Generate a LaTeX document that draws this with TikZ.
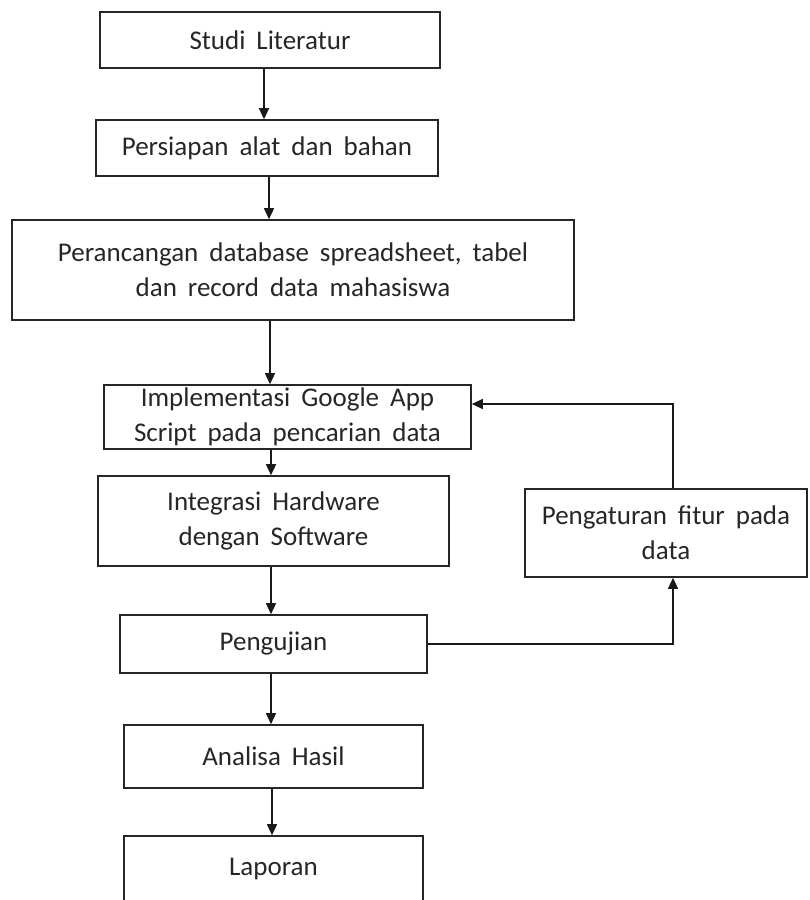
\documentclass[tikz,border=0pt]{standalone}
\usepackage{fontspec}
\setmainfont{Carlito}[WordSpace=1.8]
\usetikzlibrary{arrows.meta}
\begin{document}
\begin{tikzpicture}[x=1pt,y=-1pt,
  box/.style={draw=black!85,line width=1.6pt,align=center,inner sep=0pt,
    font=\fontsize{27}{35}\selectfont,text=black!85},
  arr/.style={draw=black!90,line width=1.4pt,-{Triangle[length=11pt,width=10pt]}},
  ln/.style={draw=black!90,line width=1.4pt}]
\useasboundingbox (0,0) rectangle (809,900);
\node[box,minimum width=340,minimum height=56] (s1) at (270,40) {Studi Literatur};
\node[box,minimum width=342,minimum height=56] (s2) at (267,148) {Persiapan alat dan bahan};
\node[box,minimum width=562,minimum height=100] (s3) at (293,270) {Perancangan database spreadsheet, tabel\\dan record data mahasiswa};
\node[box,minimum width=367,minimum height=64] (s4) at (287.5,417) {Implementasi Google App\\Script pada pencarian data};
\node[box,minimum width=351,minimum height=90] (s5) at (273.5,521) {Integrasi Hardware\\dengan Software};
\node[box,minimum width=307,minimum height=58] (s6) at (273.5,644) {Pengujian};
\node[box,minimum width=299,minimum height=63] (s7) at (273.5,756.5) {Analisa Hasil};
\node[box,minimum width=299,minimum height=66] (s8) at (273.5,869) {Laporan};
\node[box,minimum width=282,minimum height=88] (p) at (666,533) {Pengaturan fitur pada\\data};
\coordinate (k1) at (264,0);
\coordinate (k2) at (269,0);
\coordinate (k3) at (270,0);
\coordinate (k4) at (271,0);
\coordinate (k5) at (272,0);
\coordinate (kx) at (673,0);
\coordinate (ky) at (0,404);
\draw[arr] (k1 |- s1.south) -- (k1 |- s2.north);
\draw[arr] (k2 |- s2.south) -- (k2 |- s3.north);
\draw[arr] (k3 |- s3.south) -- (k3 |- s4.north);
\draw[arr] (k4 |- s4.south) -- (k4 |- s5.north);
\draw[arr] (k4 |- s5.south) -- (k4 |- s6.north);
\draw[arr] (k4 |- s6.south) -- (k4 |- s7.north);
\draw[arr] (k5 |- s7.south) -- (k5 |- s8.north);
\draw[arr] (s6.east) -| (kx |- p.south);
\draw[arr] (kx |- p.north) |- (s4.east |- ky);
\end{tikzpicture}
\end{document}
